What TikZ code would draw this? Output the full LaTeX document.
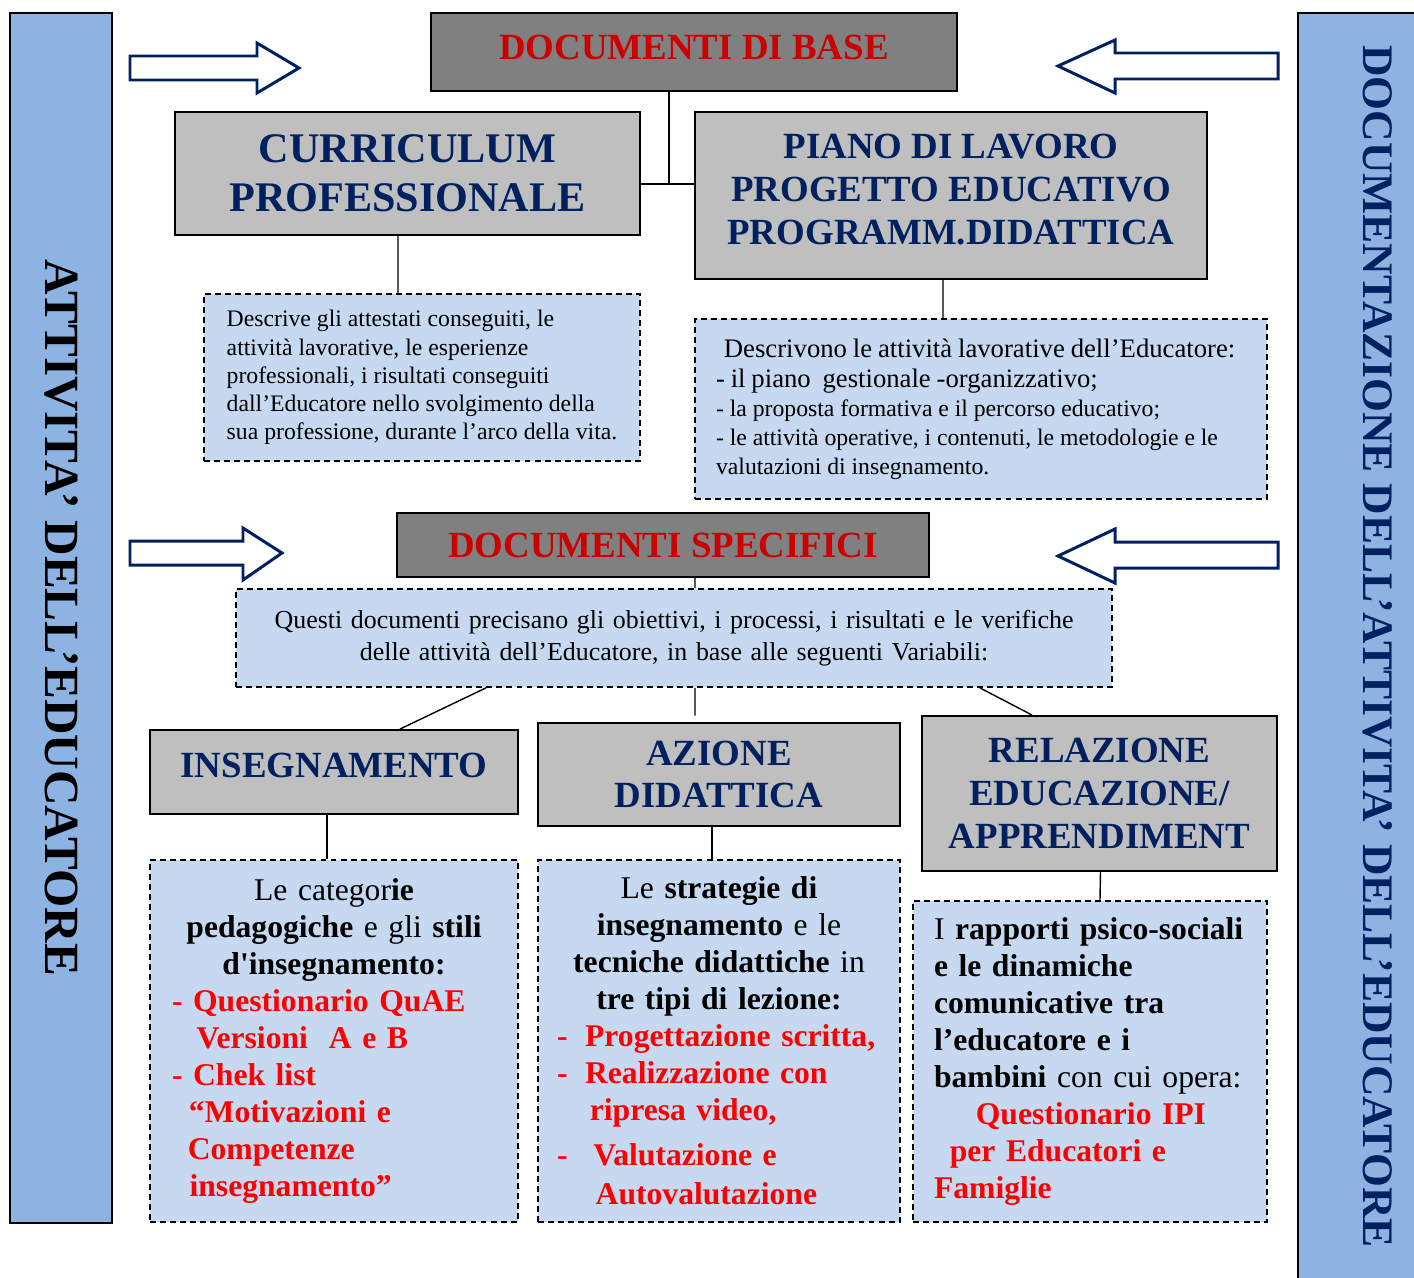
\documentclass[tikz,border=0pt]{standalone}
\usepackage{fontspec}
\setmainfont{Liberation Serif}
\usepackage{xcolor}
\definecolor{barblue}{RGB}{141,179,226}
\definecolor{noteblue}{RGB}{198,217,241}
\definecolor{boxgray}{RGB}{191,191,191}
\definecolor{headgray}{RGB}{128,128,128}
\definecolor{titlenavy}{RGB}{0,32,96}
\definecolor{headred}{RGB}{204,0,0}
\definecolor{listred}{RGB}{255,0,0}
\tikzstyle{sidebar} = [rectangle, draw=black, line width=1.1pt, fill=barblue, rotate=-90]
\tikzstyle{headbox} = [rectangle, draw=black, line width=1.1pt, fill=headgray, text=headred, font=\bfseries\fontsize{21}{24}\selectfont]
\tikzstyle{titlebox} = [rectangle, draw=black, line width=1.1pt, fill=boxgray, text=titlenavy, align=center, font=\bfseries\fontsize{21}{24.4}\selectfont]
\tikzstyle{notebox} = [rectangle, draw=black, line width=1pt, dash pattern=on 3.4pt off 2.3pt, fill=noteblue, inner xsep=0.42cm]
\tikzstyle{link} = [line width=0.8pt, black]
\tikzstyle{bigarrow} = [line width=1.7pt, draw=titlenavy, fill=white, line join=miter]

\begin{document}
\begin{tikzpicture}[x=0.02cm, y=-0.02cm]
\useasboundingbox (0,0) rectangle (1414,1278);

% Side bars
\node[sidebar, minimum width=24.2cm, minimum height=2.04cm, font=\bfseries\fontsize{28}{31}\selectfont] (leftbar) at (61,618) {ATTIVITA’ DELL’EDUCATORE};
\node[sidebar, minimum width=25.34cm, minimum height=3.2cm, text=titlenavy, font=\bfseries\fontsize{24.8}{28}\selectfont] (rightbar) at (1378,646.5) {DOCUMENTAZIONE DELL’ATTIVITA’ DELL’EDUCATORE};

% Hollow arrows
\draw[bigarrow] (130,56) -- (257,56) -- (257,43) -- (299,68) -- (257,93) -- (257,80) -- (130,80) -- cycle;
\draw[bigarrow] (1278,53) -- (1115,53) -- (1115,40) -- (1058,66) -- (1115,93) -- (1115,79) -- (1278,79) -- cycle;
\draw[bigarrow] (130,541) -- (243,541) -- (243,528) -- (282,553) -- (243,580) -- (243,565) -- (130,565) -- cycle;
\draw[bigarrow] (1278,542) -- (1115,542) -- (1115,529) -- (1058,556) -- (1115,583) -- (1115,568) -- (1278,568) -- cycle;

% Documenti di base
\node[headbox, minimum width=10.52cm, minimum height=1.56cm, text depth=0.2cm] (base) at (694,52) {DOCUMENTI DI BASE};
\node[titlebox, minimum width=9.3cm, minimum height=2.46cm, font=\bfseries\fontsize{24}{27.8}\selectfont] (curric) at (407.5,173.5) {CURRICULUM\\PROFESSIONALE};
\node[titlebox, minimum width=10.24cm, minimum height=3.34cm, text depth=0.24cm] (piano) at (951,195.5) {PIANO DI LAVORO\\PROGETTO EDUCATIVO\\PROGRAMM.DIDATTICA};
\coordinate (junction) at (669,184);

\node[notebox, minimum width=8.72cm, minimum height=3.34cm, align=left, font=\fontsize{13.5}{16}\selectfont] (curricdesc) at (422,377.5) {Descrive gli attestati conseguiti, le\\attività lavorative, le esperienze\\professionali, i risultati conseguiti\\dall’Educatore nello svolgimento della\\sua professione, durante l’arco della vita.};
\node[notebox, text width=10.6cm, minimum height=3.6cm] (pianodesc) at (981,409) {\raggedright
    {\fontsize{15.2}{17.6}\selectfont\hspace*{4.5pt}Descrivono le attività lavorative dell’Educatore:\\- il piano~~gestionale -organizzativo;\par}
    {\fontsize{13.5}{16.4}\selectfont - la proposta formativa e il percorso educativo;\\- le attività operative, i contenuti, le metodologie e le\\valutazioni di insegnamento.\par}};

% Documenti specifici
\node[headbox, minimum width=10.64cm, minimum height=1.28cm] (spec) at (663,545) {DOCUMENTI SPECIFICI};
\node[notebox, text width=16.68cm, minimum height=1.96cm, align=center, font=\fontsize{14.75}{18}\selectfont] (specdesc) at (674,638) {Questi documenti precisano gli obiettivi, i processi, i risultati e le verifiche\\delle attività dell’Educatore, in base alle seguenti Variabili:};

% Variabili
\node[titlebox, minimum width=7.36cm, minimum height=1.68cm, text depth=0.28cm] (insegn) at (334,772) {INSEGNAMENTO};
\node[titlebox, minimum width=7.24cm, minimum height=2.06cm] (azione) at (719,774.5) {AZIONE\\DIDATTICA};
\node[titlebox, minimum width=7.1cm, minimum height=3.1cm] (relaz) at (1099.5,793.5) {RELAZIONE\\EDUCAZIONE/\\APPRENDIMENT};

\node[notebox, text width=6.48cm, inner xsep=0.44cm, minimum height=7.24cm, font=\fontsize{18}{21}\selectfont] (insdesc) at (334,1041) {
    {\centering Le categor\textbf{ie}\\\textbf{pedagogiche} e gli \textbf{stili}\\\textbf{d\textquotesingle insegnamento:}\par}
    {\raggedright\bfseries\color{listred}-~Questionario QuAE\\\hspace*{14pt}Versioni~~A e B\\-~Chek list\\\hspace*{9.6pt}“Motivazioni e\\\hspace*{9pt}Competenze\\\hspace*{10pt}insegnamento”\par}};
\node[notebox, text width=6.48cm, inner xsep=0.38cm, minimum height=7.24cm, font=\fontsize{18}{21}\selectfont] (azdesc) at (719,1041) {
    {\centering Le \textbf{strategie di}\\\textbf{insegnamento} e le\\\textbf{tecniche didattiche} in\\\textbf{tre tipi di lezione:}\par}
    {\raggedright\bfseries\color{listred}-\hspace{10pt}Progettazione scritta,\\-\hspace{10pt}Realizzazione con\\\hspace*{18.7pt}ripresa video,\\[5pt]-\hspace{14.7pt}Valutazione e\\[1pt]\hspace*{22pt}Autovalutazione\par}};
\node[notebox, text width=6.24cm, inner xsep=0.42cm, minimum height=6.42cm, font=\fontsize{18}{21}\selectfont] (reldesc) at (1090,1061.5) {\raggedright
    I \textbf{rapporti psico-sociali}\\\textbf{e le dinamiche}\\\textbf{comunicative tra}\\\textbf{l’educatore e i}\\\textbf{bambini} con cui opera:\\
    {\bfseries\color{listred}\hspace*{23.8pt}Questionario IPI\\\hspace*{9pt}per Educatori e\\Famiglie}\par};

% Connectors
\draw[link] (base.south -| junction) -- (junction);
\draw[link] (curric.east |- junction) -- (piano.west |- junction);
\draw[link] ([xshift=-0.19cm]curric.south) -- ([xshift=-0.48cm]curricdesc.north);
\draw[link] ([xshift=-0.16cm]piano.south) -- ([xshift=-0.76cm]pianodesc.north);
\draw[link] ([xshift=0.64cm]spec.south) -- ([xshift=0.42cm]specdesc.north);
\draw[link] ([xshift=-3.76cm]specdesc.south) -- ([xshift=1.32cm]insegn.north);
\draw[link] ([xshift=0.42cm]specdesc.south) -- ([xshift=-0.48cm,yshift=0.13cm]azione.north);
\draw[link] ([xshift=6.12cm]specdesc.south) -- ([xshift=-1.35cm]relaz.north);
\draw[link] ([xshift=-0.14cm]insegn.south) -- ([xshift=-0.14cm]insdesc.north);
\draw[link] ([xshift=-0.14cm]azione.south) -- ([xshift=-0.14cm]azdesc.north);
\draw[link] ([xshift=0.02cm]relaz.south) -- ([xshift=0.2cm]reldesc.north);
\end{tikzpicture}
\end{document}
